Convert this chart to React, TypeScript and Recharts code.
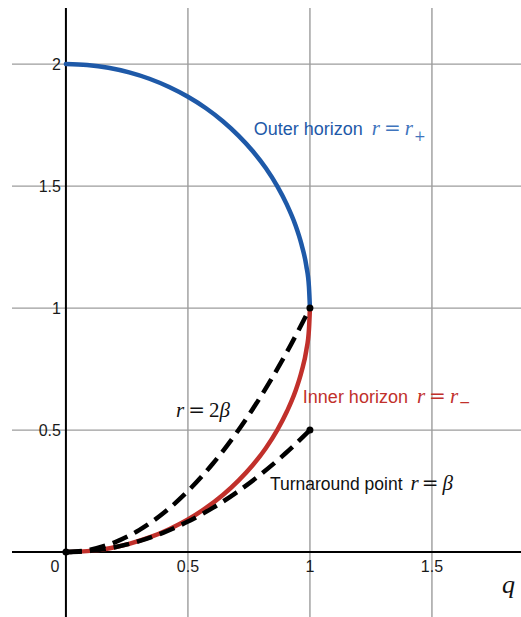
import React from 'react';
import { LineChart, Line, XAxis, YAxis, ReferenceLine, ReferenceDot } from 'recharts';

// Visible window in (q, r) units
const X_DOMAIN: [number, number] = [-0.221, 1.865];
const Y_DOMAIN: [number, number] = [-0.266, 2.23];

// Grid / tick values
const X_TICKS = [0.5, 1, 1.5];
const Y_TICKS = [0.5, 1, 1.5, 2];
const X_TICK_LABELS = ['0.5', '1', '1.5'];
const Y_TICK_LABELS = ['0.5', '1', '1.5', '2'];

// Horizons, sampled every 5 degrees around the circle
const horizonQ = [0, 0.087, 0.174, 0.259, 0.342, 0.423, 0.5, 0.574, 0.643, 0.707, 0.766, 0.819, 0.866, 0.906, 0.94, 0.966, 0.985, 0.996, 1];
const outerR = [2, 1.996, 1.985, 1.966, 1.94, 1.906, 1.866, 1.819, 1.766, 1.707, 1.643, 1.574, 1.5, 1.423, 1.342, 1.259, 1.174, 1.087, 1];
const innerR = [0, 0.004, 0.015, 0.034, 0.06, 0.094, 0.134, 0.181, 0.234, 0.293, 0.357, 0.426, 0.5, 0.577, 0.658, 0.741, 0.826, 0.913, 1];

// Turnaround point r = β and r = 2β
const betaQ = [0, 0.1, 0.2, 0.3, 0.4, 0.5, 0.6, 0.7, 0.8, 0.9, 1];
const twoBetaR = [0, 0.01, 0.04, 0.09, 0.16, 0.25, 0.36, 0.49, 0.64, 0.81, 1];
const betaR = [0, 0.005, 0.02, 0.045, 0.08, 0.125, 0.18, 0.245, 0.32, 0.405, 0.5];

// Marked points
const markQ = [0, 1, 1];
const markR = [0, 0.5, 1];

const toSeries = (qs: number[], rs: number[]) => qs.map((q, i) => ({ q, r: rs[i] }));
const outerData = toSeries(horizonQ, outerR);
const innerData = toSeries(horizonQ, innerR);
const twoBetaData = toSeries(betaQ, twoBetaR);
const betaData = toSeries(betaQ, betaR);

const BLUE = '#1e59a8';
const BLUE_MATH = '#3f74bd';
const RED = '#c1302b';
const GRID = '#9c9c9c';
const SANS = '"Liberation Sans", Arial, sans-serif';
const SERIF = '"Liberation Serif", "Times New Roman", serif';
const SYMBOL = '"DejaVu Serif", serif';

const tickText = (text: string, dx: number, dy: number, anchor: 'start' | 'middle' | 'end') =>
  (p: any) => {
    const vb = p.viewBox || { x: 0, y: 0 };
    return (
      <text x={vb.x + dx} y={vb.y + dy} textAnchor={anchor} dominantBaseline="central"
        fontFamily={SANS} fontSize={16} fill="#1a1a1a">{text}</text>
    );
  };

const mathStyle = { fontFamily: SERIF, fontStyle: 'italic' as const };

const outerLabel = (p: any) => {
  const vb = p.viewBox;
  return (
    <text x={vb.x} y={vb.y} fontFamily={SANS} fontSize={18} fill={BLUE}>
      Outer horizon
      <tspan dx={9} {...mathStyle} fontSize={21} fill={BLUE_MATH}>r</tspan>
      <tspan dx={4} fontFamily={SYMBOL} fontSize={20} fill={BLUE_MATH}>=</tspan>
      <tspan dx={4} {...mathStyle} fontSize={21} fill={BLUE_MATH}>r</tspan>
      <tspan dx={1} dy={6} fontFamily={SYMBOL} fontSize={14} fill={BLUE_MATH}>+</tspan>
    </text>
  );
};

const innerLabel = (p: any) => {
  const vb = p.viewBox;
  return (
    <text x={vb.x} y={vb.y} fontFamily={SANS} fontSize={18} fill={RED}>
      Inner horizon
      <tspan dx={9} {...mathStyle} fontSize={21}>r</tspan>
      <tspan dx={4} fontFamily={SYMBOL} fontSize={20}>=</tspan>
      <tspan dx={4} {...mathStyle} fontSize={21}>r</tspan>
      <tspan dx={1} dy={4} fontFamily={SYMBOL} fontSize={14}>−</tspan>
    </text>
  );
};

const twoBetaLabel = (p: any) => {
  const vb = p.viewBox;
  return (
    <text x={vb.x} y={vb.y} fontFamily={SERIF} fontSize={21} fill="#111">
      <tspan {...mathStyle}>r</tspan>
      <tspan dx={4} fontFamily={SYMBOL} fontSize={20}>=</tspan>
      <tspan dx={4}>2</tspan>
      <tspan {...mathStyle}>β</tspan>
    </text>
  );
};

const betaLabel = (p: any) => {
  const vb = p.viewBox;
  return (
    <text x={vb.x} y={vb.y} fontFamily={SANS} fontSize={17.5} fill="#111">
      Turnaround point
      <tspan dx={8} {...mathStyle} fontSize={21}>r</tspan>
      <tspan dx={3} fontFamily={SYMBOL} fontSize={20}>=</tspan>
      <tspan dx={4} {...mathStyle} fontSize={21}>β</tspan>
    </text>
  );
};

const qLabel = (p: any) => {
  const vb = p.viewBox;
  return (
    <text x={vb.x} y={vb.y} {...mathStyle} fontSize={26} fill="#111">q</text>
  );
};

export default function App() {
  return (
    <div style={{ position: 'absolute', left: 0, top: 0, background: '#fff' }}>
      <LineChart width={521} height={617} margin={{ top: 8, right: 0, bottom: 0, left: 12 }}>
        <XAxis type="number" dataKey="q" domain={X_DOMAIN} ticks={X_TICKS} allowDataOverflow hide />
        <YAxis type="number" dataKey="r" domain={Y_DOMAIN} ticks={Y_TICKS} allowDataOverflow hide />

        {X_TICKS.map((t) => (
          <ReferenceLine key={`gx${t}`} x={t} stroke={GRID} strokeWidth={1.4} />
        ))}
        {Y_TICKS.map((t) => (
          <ReferenceLine key={`gy${t}`} y={t} stroke={GRID} strokeWidth={1.4} />
        ))}
        <ReferenceLine x={0} stroke="#000" strokeWidth={2} />
        <ReferenceLine y={0} stroke="#000" strokeWidth={2} />

        <Line data={outerData} dataKey="r" type="monotone" stroke={BLUE} strokeWidth={4.5}
          strokeLinecap="round" dot={false} isAnimationActive={false} />
        <Line data={innerData} dataKey="r" type="monotone" stroke={RED} strokeWidth={4.5}
          strokeLinecap="round" dot={false} isAnimationActive={false} />
        <Line data={twoBetaData} dataKey="r" type="monotone" stroke="#000" strokeWidth={4.5}
          strokeDasharray="16 8" dot={false} isAnimationActive={false} />
        <Line data={betaData} dataKey="r" type="monotone" stroke="#000" strokeWidth={4.5}
          strokeDasharray="16 8" dot={false} isAnimationActive={false} />

        {markQ.map((q, i) => (
          <ReferenceDot key={`m${i}`} x={q} y={markR[i]} r={3.5} fill="#000" stroke="none" />
        ))}

        {X_TICKS.map((t, i) => (
          <ReferenceDot key={`xt${i}`} x={t} y={0} r={0} stroke="none" label={tickText(X_TICK_LABELS[i], 0, 14, 'middle')} />
        ))}
        <ReferenceDot x={0} y={0} r={0} stroke="none" label={tickText('0', -11, 14, 'middle')} />
        {Y_TICKS.map((t, i) => (
          <ReferenceDot key={`yt${i}`} x={0} y={t} r={0} stroke="none" label={tickText(Y_TICK_LABELS[i], -5, 0, 'end')} />
        ))}

        <ReferenceDot x={0.77} y={1.709} r={0} stroke="none" label={outerLabel} />
        <ReferenceDot x={0.971} y={0.611} r={0} stroke="none" label={innerLabel} />
        <ReferenceDot x={0.451} y={0.553} r={0} stroke="none" label={twoBetaLabel} />
        <ReferenceDot x={0.836} y={0.254} r={0} stroke="none" label={betaLabel} />
        <ReferenceDot x={1.787} y={-0.168} r={0} stroke="none" label={qLabel} />
      </LineChart>
    </div>
  );
}
